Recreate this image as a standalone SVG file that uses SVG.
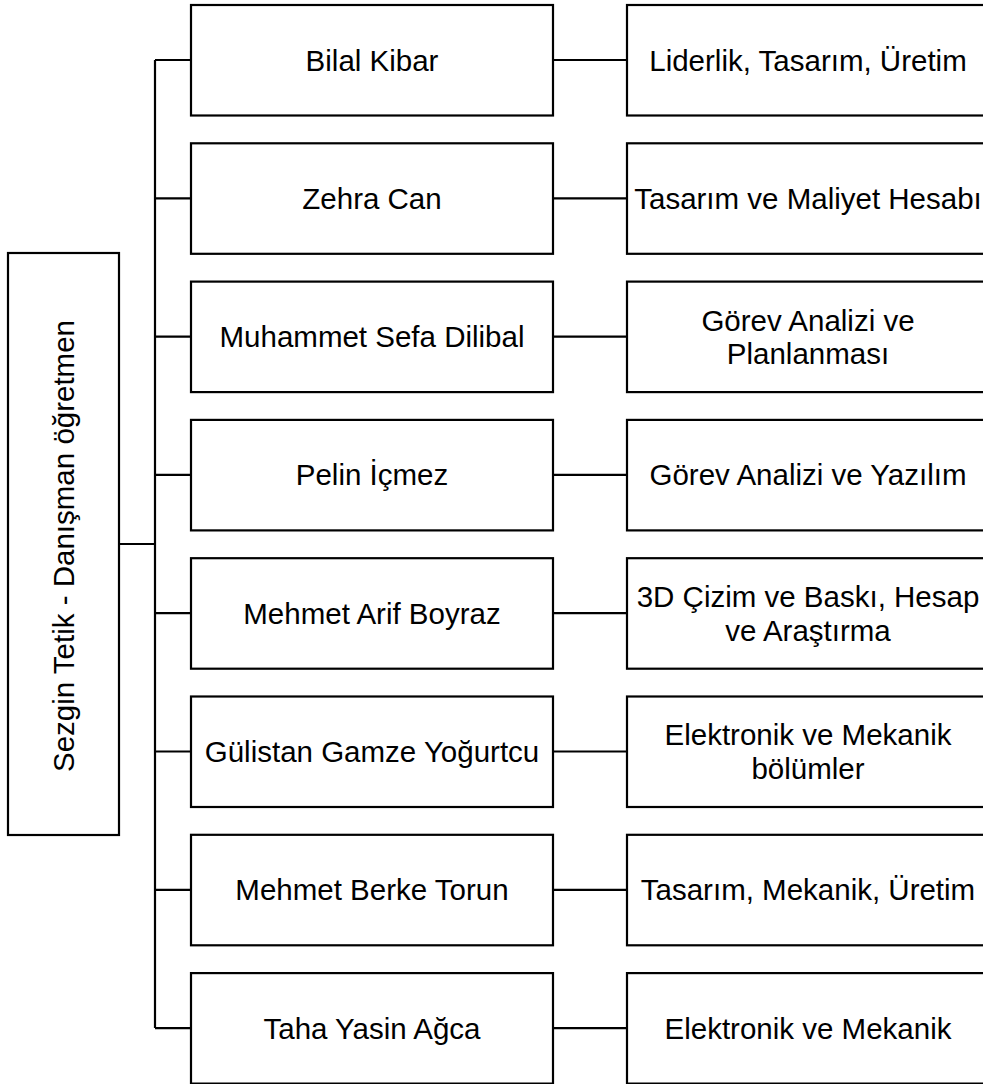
<svg xmlns="http://www.w3.org/2000/svg" width="983" height="1084" viewBox="0 0 983 1084">
<style>
.box{fill:#fff;stroke:#000;stroke-width:2.2}
.ln{fill:none;stroke:#000;stroke-width:2.2}
.t{font-family:"Liberation Sans",Arial,sans-serif;font-size:29.5px;fill:#000;text-anchor:middle;dominant-baseline:central}
</style>
<rect width="983" height="1084" fill="#fff"/>
<g id="connectors">
<path class="ln" d="M155 60V1028" stroke-width="2.6"/>
<path class="ln" d="M119 544H155" stroke-width="3"/>
<path class="ln" d="M155 60H191M155 198.3H191M155 336.6H191M155 474.9H191M155 613.2H191M155 751.5H191M155 889.8H191M155 1028.1H191"/>
<path class="ln" d="M553 60H627M553 198.3H627M553 336.6H627M553 474.9H627M553 613.2H627M553 751.5H627M553 889.8H627M553 1028.1H627"/>
</g>
<g id="root"><rect class="box" x="8" y="253" width="111" height="582"/><text class="t" transform="translate(63.5 546) rotate(-90)">Sezgin Tetik - Danışman öğretmen</text></g>
<g id="n1"><rect class="box" x="191" y="5" width="362" height="110.5"/><text class="t" x="372" y="60">Bilal Kibar</text></g>
<g id="n2"><rect class="box" x="191" y="143.3" width="362" height="110.5"/><text class="t" x="372" y="198.3">Zehra Can</text></g>
<g id="n3"><rect class="box" x="191" y="281.6" width="362" height="110.5"/><text class="t" x="372" y="336.6">Muhammet Sefa Dilibal</text></g>
<g id="n4"><rect class="box" x="191" y="419.9" width="362" height="110.5"/><text class="t" x="372" y="474.9">Pelin İçmez</text></g>
<g id="n5"><rect class="box" x="191" y="558.2" width="362" height="110.5"/><text class="t" x="372" y="613.2">Mehmet Arif Boyraz</text></g>
<g id="n6"><rect class="box" x="191" y="696.5" width="362" height="110.5"/><text class="t" x="372" y="751.5">Gülistan Gamze Yoğurtcu</text></g>
<g id="n7"><rect class="box" x="191" y="834.8" width="362" height="110.5"/><text class="t" x="372" y="889.8">Mehmet Berke Torun</text></g>
<g id="n8"><rect class="box" x="191" y="973.1" width="362" height="110.5"/><text class="t" x="372" y="1028.1">Taha Yasin Ağca</text></g>
<g id="r1"><rect class="box" x="627" y="5" width="372" height="110.5"/><text class="t" x="808" y="60">Liderlik, Tasarım, Üretim</text></g>
<g id="r2"><rect class="box" x="627" y="143.3" width="372" height="110.5"/><text class="t" x="808" y="198.3">Tasarım ve Maliyet Hesabı</text></g>
<g id="r3"><rect class="box" x="627" y="281.6" width="372" height="110.5"/><text class="t" x="808" y="320">Görev Analizi ve</text><text class="t" x="808" y="353.5">Planlanması</text></g>
<g id="r4"><rect class="box" x="627" y="419.9" width="372" height="110.5"/><text class="t" x="808" y="474.9">Görev Analizi ve Yazılım</text></g>
<g id="r5"><rect class="box" x="627" y="558.2" width="372" height="110.5"/><text class="t" x="808" y="596.5">3D Çizim ve Baskı, Hesap</text><text class="t" x="808" y="630">ve Araştırma</text></g>
<g id="r6"><rect class="box" x="627" y="696.5" width="372" height="110.5"/><text class="t" x="808" y="734.8">Elektronik ve Mekanik</text><text class="t" x="808" y="768.3">bölümler</text></g>
<g id="r7"><rect class="box" x="627" y="834.8" width="372" height="110.5"/><text class="t" x="808" y="889.8">Tasarım, Mekanik, Üretim</text></g>
<g id="r8"><rect class="box" x="627" y="973.1" width="372" height="110.5"/><text class="t" x="808" y="1028.1">Elektronik ve Mekanik</text></g>
</svg>
